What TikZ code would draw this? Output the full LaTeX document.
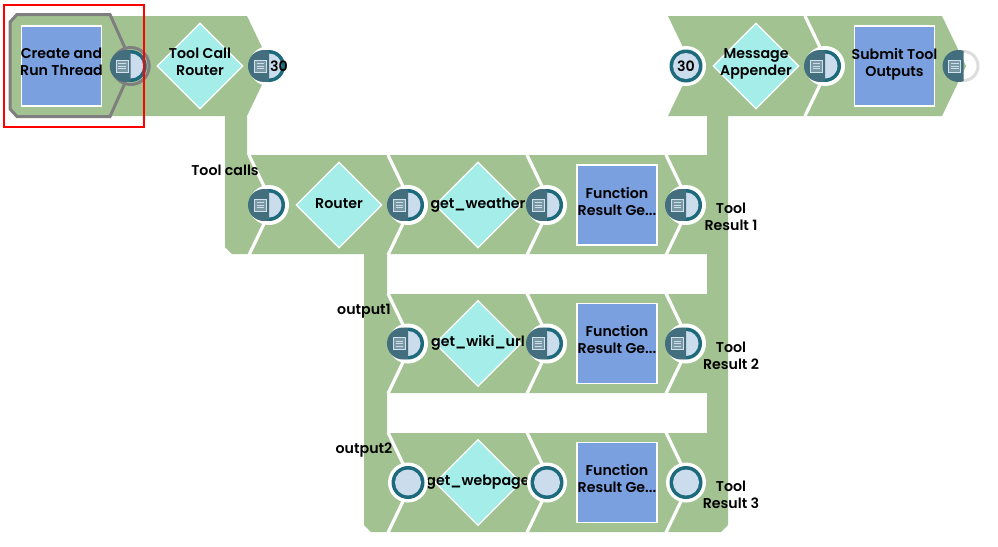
\documentclass[tikz,border=0pt]{standalone}
\usepackage{fontspec}
\setmainfont{Poppins}[BoldFont={Poppins SemiBold}]
\usetikzlibrary{positioning, shapes.geometric}
\definecolor{bandgreen}{HTML}{A2C391}
\definecolor{snapblue}{HTML}{7AA0E0}
\definecolor{routerteal}{HTML}{A4EDE8}
\definecolor{portring}{HTML}{1D6A7C}
\definecolor{portdark}{HTML}{436E7E}
\definecolor{portlight}{HTML}{CBDCEC}
\definecolor{selgray}{HTML}{7F7F7F}
\definecolor{freering}{HTML}{DDDDDD}

\begin{document}
\begin{tikzpicture}[
    x=1pt, y=-1pt,
    celltext/.style={font=\fontsize{14.2}{17}\selectfont\bfseries, align=center, inner sep=0pt, text=black,
        execute at begin node=\strut, execute at end node=\strut, yshift=-2.5pt},
    celllabel/.style={celltext, yshift=4pt},
    onelabel/.style={celltext, yshift=2.5pt},
    snapbox/.style={draw=white, line width=1.2pt, fill=snapblue, minimum size=80pt, inner sep=0pt},
    routerbox/.style={draw=white, line width=1.2pt, fill=routerteal, diamond, aspect=1, minimum size=86pt, inner sep=0pt},
    seam/.style={draw=white, line width=3.2pt},
    inport/.pic={
        \fill[white] (0,0) circle (20);
        \fill[portring] (0,0) circle (16.5);
        \fill[portlight] (0,0) circle (13);
    },
    docicon/.pic={
        \fill[portdark] (-5,0) circle (16);
        \draw[portlight!85!white, fill=portdark!70!white, line width=0.9pt] (-14.6,-6) rectangle (-2.6,6);
        \foreach \yy in {-2.5,0,2.5} {
            \draw[portlight, line width=0.8pt] (-12.4,\yy) -- (-4.8,\yy);
        }
    },
    halfmoon/.pic={
        \fill[portring] (0,0) circle (16);
        \begin{scope}
            \clip (-0.5,-20) rectangle (20,20);
            \fill[#1] (0,0) circle (12.5);
        \end{scope}
    },
    outport/.pic={
        \fill[white] (0,0) circle (20);
        \pic {halfmoon=portlight};
        \begin{scope}
            \clip (-25,-20) rectangle (0,20);
            \pic {docicon};
        \end{scope}
    }
]
    \useasboundingbox (0,0) rectangle (998,546);

    % green band, the two gaps between the rows are holes
    \fill[bandgreen, even odd rule]
        (110,16) -- (247,16) -- (271,66) -- (247,116) -- (247,155) -- (707,155) -- (707,116)
        -- (668,116) -- (692,66) -- (668,16) -- (942,16) -- (966,66) -- (942,116) -- (728,116)
        -- (728,525) -- (721,532) -- (371,532) -- (364,525) -- (364,254) -- (232,254) -- (225,247)
        -- (225,116) -- (110,116) -- (134,66) -- cycle
        (387,254) rectangle (707,294)
        (387,393) rectangle (707,433);

    % seams between neighbouring cells
    \foreach \sx/\sy in {805/66, 249/205, 388/205, 527/205, 666/205, 388/343.5, 527/343.5, 666/343.5, 388/482.5, 527/482.5, 666/482.5} {
        \draw[seam] (\sx,\sy-50) -- (\sx+24,\sy) -- (\sx,\sy+50);
    }

    % selected first cell
    \draw[selgray, fill=bandgreen, line width=3pt] (10,22) -- (17,14.5) -- (110,14.5) -- (125,48)
        -- (132,66) -- (125,83) -- (110,116.5) -- (17,116.5) -- (10,109) -- cycle;
    \draw[selgray, line width=3pt] (130.7,66) circle (18.5);

    \node[snapbox, label={[celllabel]center:Create and\\Run Thread}] (thread) at (61.5,66) {};
    \node[routerbox, label={[celllabel]center:Tool Call\\Router}] (toolrouter) at (200,66) {};
    \node[routerbox, label={[celllabel]center:Message\\Appender}] (appender) at (756,66) {};
    \node[snapbox, label={[celllabel]center:Submit Tool\\Outputs}] (submit) at (894.5,66) {};

    \node[routerbox, label={[onelabel]center:Router}] (router) at (339,205) {};
    \node[routerbox, label={[onelabel]center:get\_weather}] (weather) at (478,205) {};
    \node[routerbox, label={[onelabel]center:get\_wiki\_url}] (wiki) at (478,343.5) {};
    \node[routerbox, label={[onelabel]center:get\_webpage}] (webpage) at (478,482.5) {};

    \node[snapbox, label={[celllabel]center:Function\\Result Ge...}] (result1) at (617,205) {};
    \node[snapbox, label={[celllabel]center:Function\\Result Ge...}] (result2) at (617,343.5) {};
    \node[snapbox, label={[celllabel]center:Function\\Result Ge...}] (result3) at (617,482.5) {};

    % ports
    \begin{scope}[shift={(130.7,66)}]
        \pic {halfmoon=portlight};
        \begin{scope}
            \clip (-25,-20) rectangle (0,20);
            \pic {docicon};
        \end{scope}
    \end{scope}
    \foreach \px/\py in {269/66, 825/66, 269/205, 408/205, 547/205, 686/205, 408/343.5, 547/343.5, 686/343.5} {
        \pic at (\px,\py) {outport};
    }
    \foreach \px/\py in {686/66, 408/482.5, 547/482.5, 686/482.5} {
        \pic at (\px,\py) {inport};
    }
    \draw[freering, line width=3pt] (963.5,66) circle (14.5);
    \begin{scope}
        \clip (938,40) rectangle (963.5,92);
        \pic at (963.5,66) {docicon};
    \end{scope}

    % labels on the ports and branches
    \node[celltext] (count1) at (279,66) {30};
    \node[celltext] (count2) at (686,66) {30};
    \node[celltext] (toolcalls) at (225,170) {Tool calls};
    \node[celltext] (output1) at (364,309) {output1};
    \node[celltext] (output2) at (364,448) {output2};
    \node[celltext] (tool1) at (731,216.5) {Tool\\Result 1};
    \node[celltext] (tool2) at (731,355.5) {Tool\\Result 2};
    \node[celltext] (tool3) at (731,494.5) {Tool\\Result 3};

    \draw[red, line width=2pt] (3.5,5) rectangle (144,127);
\end{tikzpicture}
\end{document}
